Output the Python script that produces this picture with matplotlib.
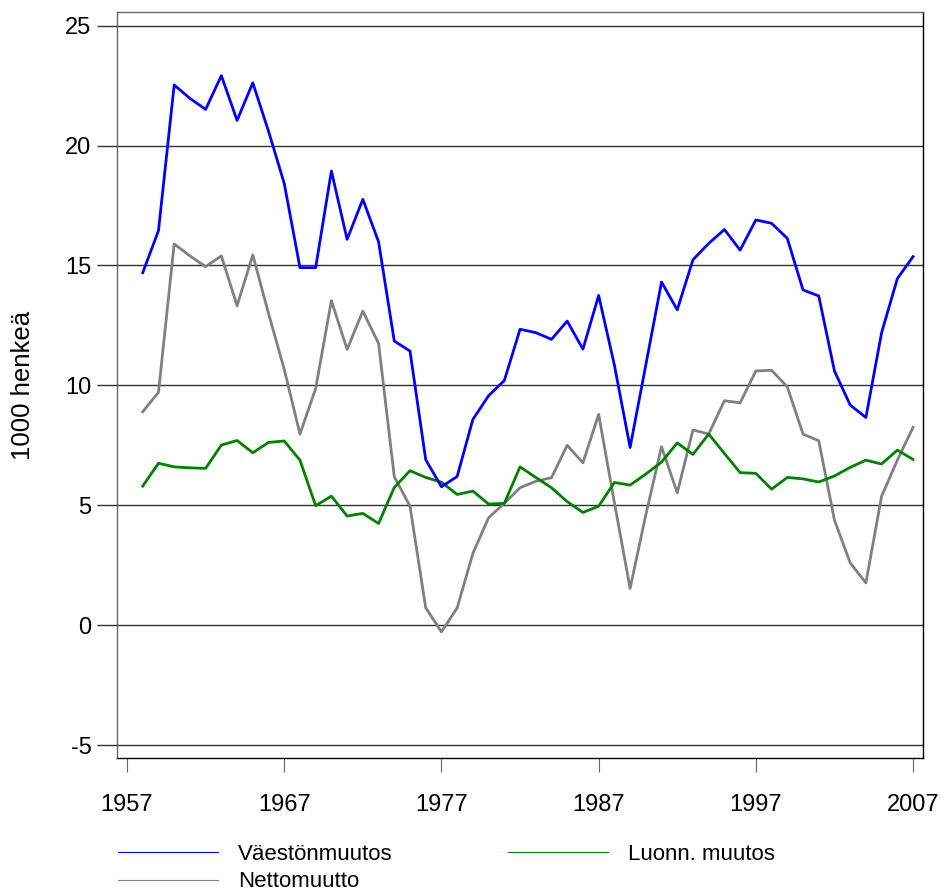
import matplotlib.pyplot as plt
from matplotlib.lines import Line2D

# ----------------------------
# Data (1000 henkeä)
# ----------------------------
years = list(range(1958, 2008))

vaesto = [14.7, 16.45, 22.53, 21.97, 21.51, 22.92, 21.05, 22.62, 20.6, 18.42,
          14.91, 14.91, 18.94, 16.09, 17.76, 15.99, 11.85, 11.43, 6.9, 5.77,
          6.2, 8.58, 9.57, 10.2, 12.34, 12.2, 11.92, 12.68, 11.51, 13.75,
          10.85, 7.41, 10.85, 14.31, 13.15, 15.24, 15.92, 16.5, 15.64, 16.9,
          16.76, 16.13, 13.98, 13.73, 10.6, 9.18, 8.66, 12.2, 14.45, 15.37]

netto = [8.9, 9.71, 15.9, 15.4, 14.95, 15.4, 13.32, 15.44, 13.0, 10.67,
         7.97, 9.87, 13.53, 11.5, 13.1, 11.75, 6.19, 4.96, 0.72, -0.28,
         0.72, 2.99, 4.48, 5.08, 5.73, 6.0, 6.15, 7.5, 6.77, 8.79,
         5.12, 1.53, 4.6, 7.44, 5.52, 8.14, 7.97, 9.36, 9.27, 10.6,
         10.63, 9.94, 7.97, 7.69, 4.38, 2.6, 1.76, 5.38, 6.88, 8.25]

luonn = [5.8, 6.75, 6.6, 6.56, 6.54, 7.51, 7.7, 7.19, 7.62, 7.68,
         6.88, 4.98, 5.38, 4.55, 4.66, 4.24, 5.74, 6.44, 6.16, 5.96,
         5.45, 5.59, 5.05, 5.08, 6.6, 6.16, 5.73, 5.15, 4.7, 4.96,
         5.95, 5.84, 6.3, 6.8, 7.6, 7.12, 7.97, 7.16, 6.36, 6.33,
         5.67, 6.16, 6.1, 5.97, 6.22, 6.58, 6.88, 6.72, 7.3, 6.91]

xticks = [1957, 1967, 1977, 1987, 1997, 2007]
yticks = [-5, 0, 5, 10, 15, 20, 25]

# ----------------------------
# Plot
# ----------------------------
plt.rcParams['font.family'] = ['Liberation Sans', 'DejaVu Sans']
plt.rcParams['axes.unicode_minus'] = False

fig = plt.figure(figsize=(9.41, 8.92), dpi=100)
ax = fig.add_axes([0.1243, 0.150, 0.8567, 0.8365])

for y in yticks:
    ax.axhline(y, color='#333333', lw=1.0, zorder=1)

ax.plot(years, luonn, color='#008000', lw=2.0, zorder=3)
ax.plot(years, netto, color='#808080', lw=2.0, zorder=2)
ax.plot(years, vaesto, color='#0000ff', lw=2.0, zorder=4)

ax.set_xlim(1956.36, 2007.64)
ax.set_ylim(-5.55, 25.57)
ax.set_xticks(xticks)
ax.set_yticks(yticks)
ax.tick_params(axis='y', direction='out', length=14.4, width=1.0, color='#333333',
               labelsize=17, pad=4)
ax.tick_params(axis='x', direction='out', length=10, width=0.8, color='#666666',
               labelsize=17, pad=16)

ax.spines['left'].set_color('#666666')
ax.spines['top'].set_color('#666666')
ax.spines['right'].set_color('black')
ax.spines['bottom'].set_color('black')
for s in ax.spines.values():
    s.set_linewidth(1.0)

ax.set_ylabel('1000 henkeä', fontsize=18.5)
ax.yaxis.set_label_coords(-0.1017, 0.5)

handles = [Line2D([], [], color='#0000ff', lw=0.8),
           Line2D([], [], color='#808080', lw=0.8),
           Line2D([], [], color='#008000', lw=0.8)]
labels = ['Väestönmuutos', 'Nettomuutto', 'Luonn. muutos']
fig.legend(handles, labels, ncol=2, loc='upper left',
           bbox_to_anchor=(0.1256, 0.054), frameon=False, fontsize=16,
           handlelength=4.5, handletextpad=0.9, columnspacing=5.2,
           labelspacing=0.3, borderpad=0, borderaxespad=0)

fig.savefig('out.png', dpi=100)
